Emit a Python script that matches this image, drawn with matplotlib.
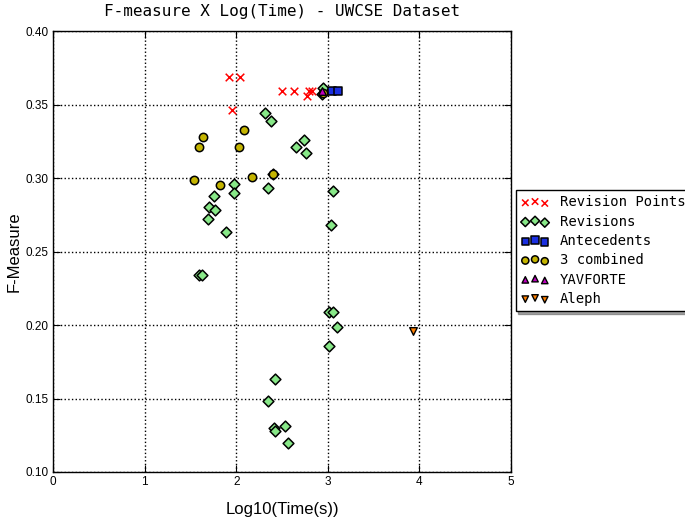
import matplotlib
matplotlib.use("Agg")
import matplotlib.pyplot as plt

# log10 of runtime (seconds) and F-measure for each system on UWCSE
revision_points_x = [1.92, 2.04, 1.95, 2.50, 2.63, 2.77, 2.80, 2.83, 2.97]
revision_points_y = [0.369, 0.369, 0.346, 0.359, 0.359, 0.356, 0.359, 0.359, 0.359]

revisions_x = [2.95, 2.94, 2.31, 2.38, 2.74, 2.65, 2.76, 1.98, 2.35, 3.06,
               1.98, 1.76, 1.70, 1.77, 1.69, 1.89, 3.03, 1.59, 1.63,
               3.01, 3.06, 3.10, 3.01, 2.53, 2.57, 2.42, 2.35, 2.41, 2.42, 2.40]
revisions_y = [0.361, 0.357, 0.344, 0.339, 0.326, 0.321, 0.317, 0.296, 0.293, 0.291,
               0.290, 0.288, 0.280, 0.278, 0.272, 0.263, 0.268, 0.234, 0.234,
               0.209, 0.209, 0.199, 0.186, 0.131, 0.120, 0.163, 0.148, 0.130, 0.128, 0.303]

antecedents_x = [3.05, 3.11]
antecedents_y = [0.359, 0.359]

combined_x = [1.64, 1.59, 2.08, 2.03, 1.54, 1.82, 2.17, 2.40, 2.95]
combined_y = [0.328, 0.321, 0.333, 0.321, 0.299, 0.295, 0.301, 0.303, 0.358]

yavforte_x = [2.94]
yavforte_y = [0.359]

aleph_x = [3.93]
aleph_y = [0.196]

x_ticks = [0, 1, 2, 3, 4, 5]
y_ticks = [0.10, 0.15, 0.20, 0.25, 0.30, 0.35, 0.40]

fig = plt.figure(figsize=(6.85, 5.19), dpi=100)
ax = fig.add_axes([0.0774, 0.0906, 0.6686, 0.8494])

ax.scatter(revision_points_x, revision_points_y, marker="x", s=30, c="red",
           linewidths=1.1, label="Revision Points", zorder=3)
ax.scatter(revisions_x, revisions_y, marker="D", s=30, c="#88e888",
           edgecolors="black", linewidths=1.1, label="Revisions", zorder=3)
ax.scatter(antecedents_x, antecedents_y, marker="s", s=40, c="#1a2fe0",
           edgecolors="black", linewidths=1.1, label="Antecedents", zorder=3)
ax.scatter(combined_x, combined_y, marker="o", s=36, c="#c4b400",
           edgecolors="black", linewidths=1.1, label="3 combined", zorder=3)
ax.scatter(yavforte_x, yavforte_y, marker="^", s=30, c="#bf00bf",
           edgecolors="black", linewidths=1.0, label="YAVFORTE", zorder=3)
ax.scatter(aleph_x, aleph_y, marker="v", s=30, c="#ff8000",
           edgecolors="black", linewidths=1.0, label="Aleph", zorder=3)

ax.set_xlim(0, 5)
ax.set_ylim(0.10, 0.40)
ax.set_xticks(x_ticks)
ax.set_yticks(y_ticks)
ax.set_xticklabels([str(t) for t in x_ticks], family="Liberation Sans", fontsize=8.5)
ax.set_yticklabels(["%.2f" % t for t in y_ticks], family="Liberation Sans", fontsize=8.5)
ax.tick_params(direction="in", length=5, top=True, right=True, width=0.8, pad=3)
ax.grid(True, linestyle=":", color="black", linewidth=1.0)
ax.set_axisbelow(True)
for sp in ax.spines.values():
    sp.set_linewidth(1.0)

ax.set_xlabel("Log10(Time(s))", family="Liberation Sans", fontsize=12, labelpad=10)
ax.set_ylabel("F-Measure", family="Liberation Sans", fontsize=12)
ax.yaxis.set_label_coords(-0.068, 0.5)
ax.set_title("F-measure X Log(Time) - UWCSE Dataset", family="DejaVu Sans Mono",
             fontsize=11.5, pad=11)

leg = ax.legend(loc="upper left", bbox_to_anchor=(1.01, 0.64), scatterpoints=3,
                scatteryoffsets=[0.375, 0.5, 0.3125], shadow=True, fancybox=False,
                prop={"family": "DejaVu Sans Mono", "size": 10}, borderaxespad=0.,
                markerscale=0.85, handlelength=2.0, handletextpad=0.8,
                labelspacing=0.38)
leg.get_frame().set_edgecolor("black")

fig.savefig("out.png", dpi=100)
